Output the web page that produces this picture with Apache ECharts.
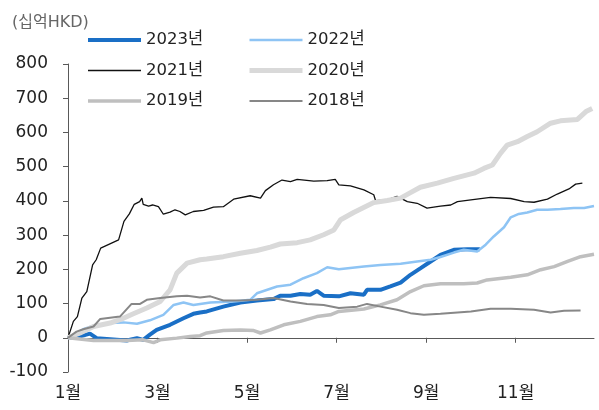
<!DOCTYPE html>
<html>
<head>
    <meta charset="UTF-8">
    <title>chart</title>
    <script src="https://cdn.jsdelivr.net/npm/echarts@6/dist/echarts.min.js"></script>
    <style>
        *{margin:0;padding:0}
        html, body{width:100%;height:100%;background:#fff}
        #main{width:599px;height:410px}
    </style>
</head>
<body>
    <div id="main"></div>
    <script type="text/javascript">
        // x = 월 (0 = 1월 1일), y = 십억HKD
        var monthLabels = ['1월', '3월', '5월', '7월', '9월', '11월'];
        var monthTicks = [0, 2, 4, 6, 8, 10];
        var seriesNames = ['2023년', '2022년', '2021년', '2020년', '2019년', '2018년'];

        var data2023 = [[0,0],[0.27,4],[0.49,12],[0.64,-1],[0.94,-4],[1.31,-8],[1.54,-1],[1.68,-6],[1.83,9],[1.98,23],
            [2.28,38],[2.58,57],[2.8,70],[2.95,74],[3.1,77],[3.47,91],[3.85,103],[4.22,109],[4.59,113],[4.74,123],
            [4.97,123],[5.19,128],[5.41,126],[5.56,137],[5.71,123],[6.05,121],[6.31,130],[6.61,126],[6.68,140],[6.98,140],
            [7.2,150],[7.43,161],[7.65,184],[7.87,203],[8.1,223],[8.32,242],[8.62,257],[8.92,259],[9.2,259]];
        var data2022 = [[0,0],[0.34,25],[0.57,35],[0.94,43],[1.24,45],[1.54,41],[1.83,51],[2.13,67],[2.36,96],[2.58,103],
            [2.8,96],[3.18,103],[3.7,106],[4.07,111],[4.22,130],[4.67,150],[4.97,155],[5.26,174],[5.56,189],[5.79,206],
            [6.05,200],[6.61,208],[6.98,213],[7.43,216],[7.8,223],[8.1,228],[8.32,236],[8.62,249],[8.84,257],[9.14,252],
            [9.33,272],[9.51,296],[9.74,323],[9.89,352],[10.07,362],[10.26,366],[10.48,374],[10.71,374],[11.0,376],[11.3,379],
            [11.53,379],[11.75,385]];
        var data2021 = [[0,0],[0.12,48],[0.21,62],[0.31,116],[0.42,135],[0.55,213],[0.63,228],[0.73,262],[1.13,286],[1.25,340],
            [1.37,362],[1.48,390],[1.6,398],[1.65,408],[1.68,390],[1.8,385],[1.89,388],[2.02,383],[2.13,361],[2.28,367],
            [2.39,374],[2.5,369],[2.62,359],[2.8,369],[3.03,372],[3.25,382],[3.47,383],[3.7,405],[4.07,415],[4.3,408],
            [4.41,430],[4.59,447],[4.78,461],[4.97,456],[5.12,463],[5.49,458],[5.79,459],[5.97,463],[6.05,447],[6.31,444],
            [6.61,432],[6.83,418],[6.87,401],[7.13,403],[7.35,413],[7.58,398],[7.8,393],[8.02,379],[8.32,385],[8.55,388],
            [8.7,398],[9.0,403],[9.44,410],[9.89,407],[10.19,398],[10.41,396],[10.71,405],[10.93,420],[11.19,435],[11.34,449],
            [11.49,452]];
        var data2020 = [[0,0],[0.27,14],[0.57,33],[0.94,43],[1.2,55],[1.46,70],[1.76,87],[2.06,106],[2.28,140],[2.43,189],
            [2.66,218],[2.95,228],[3.1,230],[3.47,237],[3.85,247],[4.22,255],[4.52,265],[4.74,274],[5.12,278],[5.41,286],
            [5.71,301],[5.94,315],[6.09,345],[6.38,366],[6.83,395],[7.13,401],[7.43,408],[7.65,424],[7.87,440],[8.25,452],
            [8.62,466],[8.92,476],[9.07,481],[9.29,495],[9.48,505],[9.66,539],[9.81,563],[10.04,573],[10.26,588],[10.48,602],
            [10.78,627],[11.0,634],[11.38,638],[11.57,661],[11.71,670]];
        var data2019 = [[0,0],[0.57,-8],[1.31,-8],[1.68,-6],[1.91,-14],[2.06,-6],[2.43,-1],[2.73,4],[2.95,6],[3.1,14],
            [3.47,21],[3.85,23],[4.15,21],[4.3,14],[4.52,23],[4.82,38],[5.19,48],[5.56,62],[5.86,67],[6.05,77],
            [6.61,84],[6.98,96],[7.35,111],[7.65,135],[7.95,152],[8.32,158],[8.84,158],[9.14,160],[9.36,169],[9.89,177],
            [10.26,184],[10.56,199],[10.86,208],[11.16,223],[11.45,237],[11.75,244]];
        var data2018 = [[0,0],[0.19,18],[0.34,25],[0.57,33],[0.72,55],[1.16,62],[1.42,99],[1.61,99],[1.76,111],[2.06,116],
            [2.43,121],[2.66,123],[2.95,118],[3.18,121],[3.47,109],[3.85,109],[4.22,111],[4.59,116],[4.97,106],[5.34,99],
            [5.71,96],[6.05,87],[6.46,91],[6.68,99],[6.98,91],[7.35,82],[7.65,72],[7.95,67],[8.32,70],[8.7,74],
            [9.0,77],[9.44,85],[9.89,85],[10.41,82],[10.78,74],[11.08,79],[11.45,80]];

        var seriesData = [data2023, data2022, data2021, data2020, data2019, data2018];
        var colors = ['#1a6fc6', '#8ec4f4', '#111111', '#d9d9d9', '#bfbfbf', '#878787'];
        var widths = [4, 2.5, 1.3, 5, 3.5, 2];

        var font = "'DejaVu Sans', 'Noto Sans CJK KR', sans-serif";
        var myChart = echarts.init(document.getElementById('main'));

        var series = seriesNames.map(function (name, i) {
            return {
                name: name,
                type: 'line',
                xAxisIndex: 0,
                symbol: 'none',
                smooth: false,
                color: colors[i],
                lineStyle: {color: colors[i], width: widths[i]},
                data: seriesData[i]
            };
        });

        function legendCol(idx, left) {
            return {
                data: idx.map(function (i) {
                    return {name: seriesNames[i], lineStyle: {width: widths[i], color: colors[i]}};
                }),
                orient: 'vertical',
                left: left,
                top: 26,
                itemWidth: 53,
                itemHeight: 18,
                itemGap: 12.5,
                itemStyle: {opacity: 0},
                textStyle: {fontFamily: font, fontSize: 16.5, color: '#222', lineHeight: 18}
            };
        }

        var option = {
            animation: false,
            title: {
                text: '(십억HKD)',
                left: 7,
                top: 10,
                textStyle: {fontFamily: font, fontSize: 16, fontWeight: 'normal', color: '#666'}
            },
            legend: [
                legendCol([0, 2, 4], 81),
                legendCol([1, 3, 5], 242)
            ],
            grid: {left: 68, right: 5, top: 64, bottom: 38},
            xAxis: [{
                type: 'value',
                min: 0,
                max: 11.75,
                axisLine: {onZero: true, lineStyle: {color: '#595959', width: 1}},
                axisTick: {show: true, length: 5, customValues: monthTicks, lineStyle: {color: '#595959'}},
                axisLabel: {show: false},
                splitLine: {show: false}
            }, {
                type: 'value',
                min: 0,
                max: 11.75,
                position: 'bottom',
                axisLine: {show: false, onZero: false},
                axisTick: {show: false},
                axisLabel: {
                    customValues: monthTicks,
                    margin: 13,
                    fontFamily: font,
                    fontSize: 17,
                    color: '#222',
                    formatter: function (v) { return monthLabels[monthTicks.indexOf(v)] || ''; }
                },
                splitLine: {show: false}
            }],
            yAxis: {
                type: 'value',
                min: -100,
                max: 800,
                interval: 100,
                axisLine: {show: true, lineStyle: {color: '#595959', width: 1}},
                axisTick: {show: true, length: 5, lineStyle: {color: '#595959'}},
                axisLabel: {margin: 20, fontFamily: font, fontSize: 17, color: '#222'},
                splitLine: {show: false}
            },
            series: series
        };
        myChart.setOption(option);
    </script>
</body>
</html>
